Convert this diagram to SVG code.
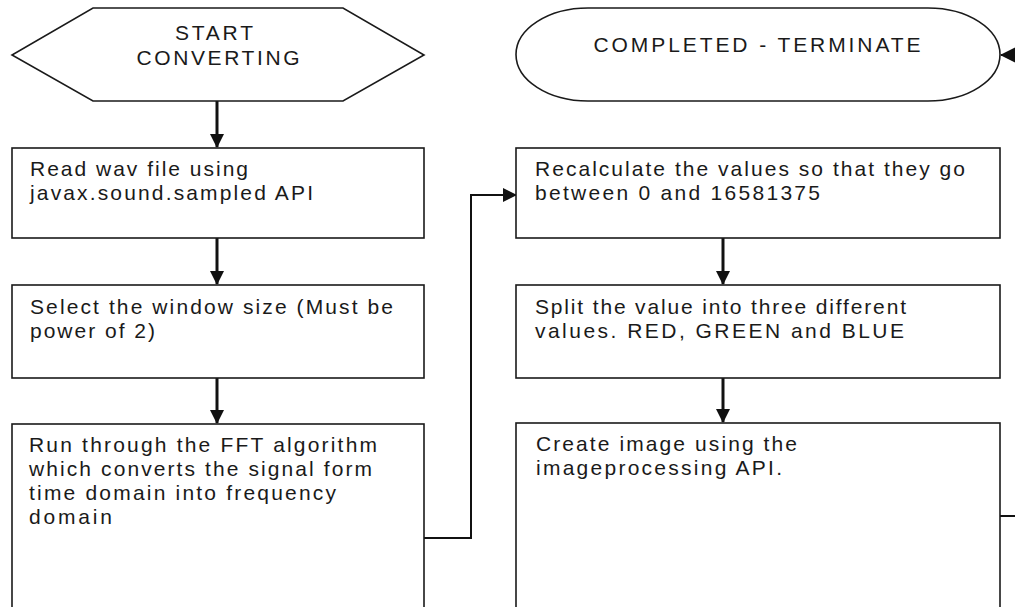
<svg xmlns="http://www.w3.org/2000/svg" width="1015" height="607" viewBox="0 0 1015 607">
<defs>
<style>
.shape{fill:#fff;stroke:#1a1a1a;stroke-width:1.6}
.t{font-family:"Liberation Sans",Arial,sans-serif;font-size:21px;fill:#1a1a1a}
.c{text-anchor:middle}
.conn{fill:none;stroke:#111;stroke-width:3}
.thin{fill:none;stroke:#111;stroke-width:2}
</style>
<marker id="ah" markerWidth="14" markerHeight="14" refX="13" refY="7" orient="auto" markerUnits="userSpaceOnUse" viewBox="0 0 14 14">
<path d="M0,0 L14,7 L0,14 Z" fill="#111"/>
</marker>
<marker id="ah2" markerWidth="16" markerHeight="16" refX="15" refY="8" orient="auto" markerUnits="userSpaceOnUse" viewBox="0 0 16 16">
<path d="M0,0 L16,8 L0,16 Z" fill="#111"/>
</marker>
</defs>
<rect width="1015" height="607" fill="#fff"/>
<g id="connectors">
<path class="conn" d="M217,101 V147" marker-end="url(#ah)"/>
<path class="conn" d="M217,238 V284" marker-end="url(#ah)"/>
<path class="conn" d="M217,378 V423" marker-end="url(#ah)"/>
<path class="thin" d="M424,538 H471 V195 H516" marker-end="url(#ah)"/>
<path class="conn" d="M723,238 V284" marker-end="url(#ah)"/>
<path class="conn" d="M723,378 V422" marker-end="url(#ah)"/>
<path class="thin" d="M1000,516 H1040 V55 H1001" marker-end="url(#ah2)"/>
</g>
<g id="start">
<polygon class="shape" points="93,8 343,8 424,55 343,101 93,101 12,55"/>
<text class="t c" x="214" y="40" textLength="78" lengthAdjust="spacing">START</text>
<text class="t c" x="218" y="65" textLength="163" lengthAdjust="spacing">CONVERTING</text>
</g>
<g id="terminate">
<path class="shape" d="M588,8 H928 A72,46.5 0 0 1 928,101 H588 A72,46.5 0 0 1 588,8 Z"/>
<text class="t c" x="757" y="52" textLength="327" lengthAdjust="spacing">COMPLETED - TERMINATE</text>
</g>
<g id="read">
<rect class="shape" x="12" y="148" width="412" height="90"/>
<text class="t" x="30" y="176" textLength="218" lengthAdjust="spacing">Read wav file using</text>
<text class="t" x="30" y="200" textLength="283" lengthAdjust="spacing">javax.sound.sampled API</text>
</g>
<g id="window">
<rect class="shape" x="12" y="285" width="412" height="93"/>
<text class="t" x="30" y="314" textLength="363" lengthAdjust="spacing">Select the window size (Must be</text>
<text class="t" x="30" y="338" textLength="125" lengthAdjust="spacing">power of 2)</text>
</g>
<g id="fft">
<rect class="shape" x="12" y="424" width="412" height="200"/>
<text class="t" x="29" y="452" textLength="348" lengthAdjust="spacing">Run through the FFT algorithm</text>
<text class="t" x="29" y="476" textLength="343" lengthAdjust="spacing">which converts the signal form</text>
<text class="t" x="29" y="500" textLength="307" lengthAdjust="spacing">time domain into frequency</text>
<text class="t" x="29" y="524" textLength="83" lengthAdjust="spacing">domain</text>
</g>
<g id="recalc">
<rect class="shape" x="516" y="148" width="484" height="90"/>
<text class="t" x="535" y="176" textLength="430" lengthAdjust="spacing">Recalculate the values so that they go</text>
<text class="t" x="535" y="200" textLength="285" lengthAdjust="spacing">between 0 and 16581375</text>
</g>
<g id="split">
<rect class="shape" x="516" y="285" width="484" height="93"/>
<text class="t" x="535" y="314" textLength="371" lengthAdjust="spacing">Split the value into three different</text>
<text class="t" x="535" y="338" textLength="369" lengthAdjust="spacing">values. RED, GREEN and BLUE</text>
</g>
<g id="create">
<rect class="shape" x="516" y="423" width="484" height="200"/>
<text class="t" x="536" y="451" textLength="261" lengthAdjust="spacing">Create image using the</text>
<text class="t" x="536" y="475" textLength="246" lengthAdjust="spacing">imageprocessing API.</text>
</g>
</svg>
